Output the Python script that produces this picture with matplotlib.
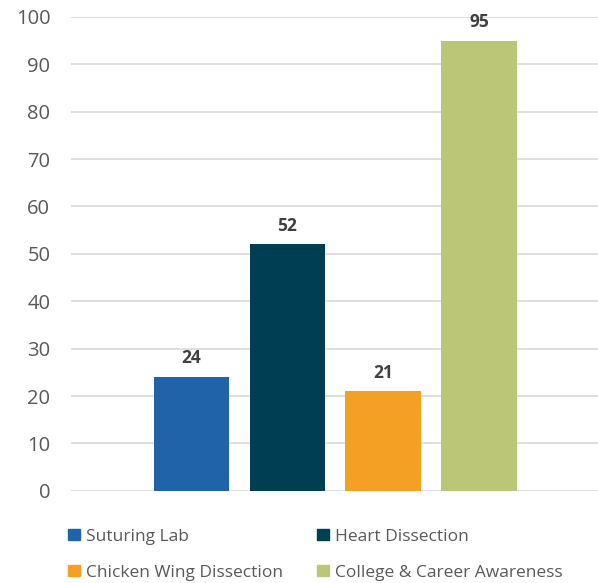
import matplotlib
matplotlib.use("Agg")
import matplotlib.pyplot as plt
from matplotlib.patches import Patch

# data
series = ["Suturing Lab", "Heart Dissection", "Chicken Wing Dissection", "College & Career Awareness"]
values = [24, 52, 21, 95]
colors = ["#2163A9", "#003F53", "#F4A025", "#BBC777"]
yticks = [0, 10, 20, 30, 40, 50, 60, 70, 80, 90, 100]

plt.rcParams["font.family"] = ["Open Sans", "DejaVu Sans"]

fig = plt.figure(figsize=(5.98, 5.83), dpi=100)
ax = fig.add_axes([0.119, 0.158, 0.881, 0.813])

x = list(range(len(series)))
bars = ax.bar(x, values, width=0.79, color=colors, zorder=2)

# value labels above each bar
for xi, v in zip(x, values):
    ax.annotate(str(v), (xi, v), xytext=(0, 7), textcoords="offset points",
                ha="center", va="bottom", fontsize=12.5, fontweight="bold", color="#404040")

ax.set_xlim(-1.258, 4.243)
ax.set_ylim(0, 100)
ax.set_yticks(yticks)
ax.set_xticks([])
ax.tick_params(axis="y", length=0, pad=15, labelsize=14.5, labelcolor="#595959")
ax.grid(axis="y", color="#D9D9D9", linewidth=1.2, zorder=0)
for s in ax.spines.values():
    s.set_visible(False)

# legend: row-wise order like the original, matplotlib fills column-first
order = [0, 2, 1, 3]
handles = [Patch(color=colors[i], label=series[i]) for i in order]
fig.legend(handles=handles, ncol=2, loc="upper left", bbox_to_anchor=(0.088, 0.12),
           frameon=False, fontsize=12.5, labelcolor="#595959", handlelength=0.65,
           handleheight=0.65, handletextpad=0.35, columnspacing=2.0, labelspacing=1.15)

fig.savefig("out.png", dpi=100)
